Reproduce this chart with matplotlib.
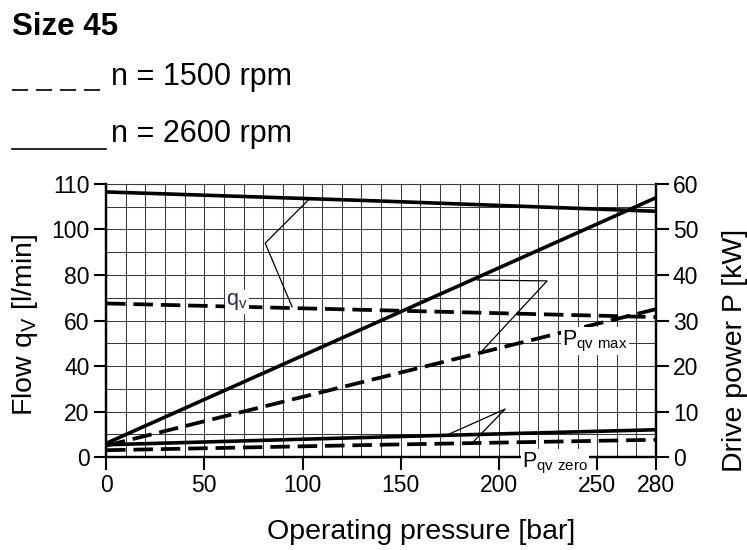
import matplotlib
matplotlib.use("Agg")
import matplotlib.pyplot as plt
from matplotlib.lines import Line2D

plt.rcParams['font.family'] = ['Liberation Sans', 'DejaVu Sans']
plt.rcParams['mathtext.default'] = 'regular'

# operating pressure [bar]
pressure = [0, 140, 280]
# flow [l/min]
flow_2600 = [116.5, 112.5, 108.0]
flow_1500 = [67.5, 64.5, 61.5]
# drive power [kW]
p_max_2600 = [3.0, 30.0, 57.0]
p_max_1500 = [2.5, 17.5, 32.5]
p_zero_2600 = [2.7, 4.4, 6.0]
p_zero_1500 = [1.5, 2.7, 3.8]

x_ticks = [0, 50, 100, 150, 200, 250, 280]
left_ticks = [0, 20, 40, 60, 80, 100, 120]
left_labels = ["0", "20", "40", "60", "80", "100", "110"]
right_ticks = [0, 10, 20, 30, 40, 50, 60]

# leader lines (pressure, flow scale)
lead_qv = ([103, 81, 94.7], [113, 94, 66])
lead_pmax = ([189, 224.5, 190.4], [77.8, 77.4, 45.7])
lead_pzero = ([173.6, 203.2, 186.4], [9.7, 21.1, 6.2])

fig = plt.figure(figsize=(7.47, 5.5), dpi=100)
ax = fig.add_axes([0.142, 0.169, 0.7363, 0.4965])
ax2 = ax.twinx()

ax.set_xlim(0, 280)
ax.set_ylim(0, 120)
ax2.set_ylim(0, 60)

# grid
for gx in range(0, 281, 10):
    ax.axvline(gx, color="#3a3a3a", lw=0.75, zorder=1)
for gy in range(0, 121, 10):
    ax.axhline(gy, color="#3a3a3a", lw=0.75, zorder=1)

dash = (0, (5.2, 2.1))
ax.plot(pressure, flow_2600, color="black", lw=2.6, zorder=3)
ax.plot(pressure, flow_1500, color="black", lw=2.7, linestyle=dash, zorder=3)
ax2.plot(pressure, p_max_2600, color="black", lw=2.6, zorder=3)
ax2.plot(pressure, p_max_1500, color="black", lw=2.7, linestyle=dash, zorder=3)
ax2.plot(pressure, p_zero_2600, color="black", lw=2.6, zorder=3)
ax2.plot(pressure, p_zero_1500, color="black", lw=2.7, linestyle=dash, zorder=3)

for lx, ly in (lead_qv, lead_pmax, lead_pzero):
    ax2.plot(lx, [v / 2 for v in ly], color="black", lw=0.9, zorder=4)

box = dict(facecolor="white", edgecolor="none", pad=1.0)
ax2.text(61, 34.1, "q$_v$", fontsize=15.5, color="#1c2c5c", ha="left", va="center",
         bbox=box, zorder=10)
ax2.text(232, 25.5, "P$_{qv\\ max}$", fontsize=15.5, ha="left", va="center",
         bbox=box, zorder=10)
ax2.text(211.7, -1.3, "P$_{qv\\ zero}$", fontsize=15.5, ha="left", va="center",
         bbox=box, zorder=10, clip_on=False)

ax.set_xticks(x_ticks)
ax.set_yticks(left_ticks)
ax.set_yticklabels(left_labels)
ax2.set_yticks(right_ticks)
ax.tick_params(axis="both", labelsize=16.5, length=9, width=1.5, direction="out", pad=3)
ax2.tick_params(axis="y", labelsize=16.5, length=9, width=1.5, direction="out", pad=3)

for a in (ax, ax2):
    for s in ("left", "right", "bottom"):
        a.spines[s].set_linewidth(1.6)
    a.spines["top"].set_linewidth(0.75)
    a.spines["top"].set_color("#3a3a3a")

fig.text(421 / 747, 1 - 532 / 550, "Operating pressure [bar]", fontsize=20.5,
         ha="center", va="center")
fig.text(25 / 747, 1 - 325 / 550, "Flow q$_V$ [l/min]", fontsize=20.5,
         ha="center", va="center", rotation=90)
fig.text(735 / 747, 1 - 350 / 550, "Drive power P [kW]", fontsize=20.5,
         ha="center", va="center", rotation=90)

# header and speed key
fig.text(12 / 747, 1 - 27 / 550, "Size 45", fontsize=22.5, fontweight="bold",
         ha="left", va="center")
fig.text(111 / 747, 1 - 77 / 550, "n = 1500 rpm", fontsize=22, ha="left", va="center")
fig.text(111 / 747, 1 - 134 / 550, "n = 2600 rpm", fontsize=22, ha="left", va="center")
fig.add_artist(Line2D([12 / 747, 100 / 747], [1 - 90 / 550] * 2, transform=fig.transFigure,
                      color="black", lw=1.2, linestyle=(0, (9.6, 4.8))))
fig.add_artist(Line2D([12 / 747, 106 / 747], [1 - 149 / 550] * 2, transform=fig.transFigure,
                      color="black", lw=1.2))

fig.savefig("out.png", dpi=100)
